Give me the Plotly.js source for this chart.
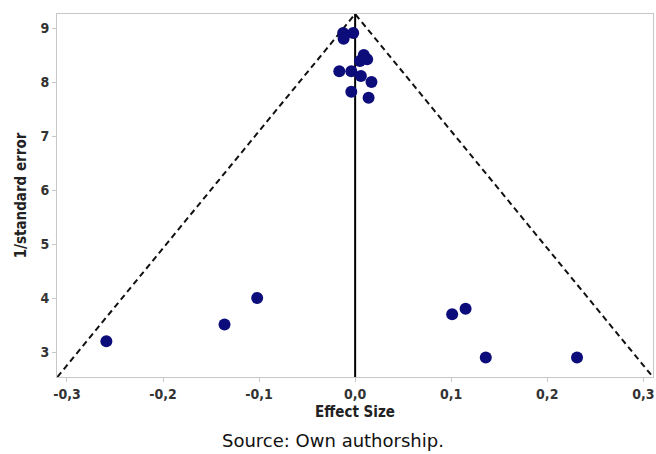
<!DOCTYPE html>
<html>
<head>
<meta charset="utf-8">
<script src="https://cdn.plot.ly/plotly-3.0.1.min.js"></script>
<style>html,body{margin:0;padding:0;background:#fff;}#chart{width:656px;height:454px;}</style>
</head>
<body>
<div id="chart"></div>
<script>
// Study effect sizes and precision (1/standard error)
const effectSize = [-0.0125, -0.002, -0.012, 0.009, 0.0125, 0.005, -0.0165, -0.004, 0.006, 0.017, -0.004, 0.014,
                    -0.259, -0.136, -0.102, 0.101, 0.115, 0.136, 0.231];
const precision  = [8.91, 8.91, 8.80, 8.50, 8.42, 8.39, 8.20, 8.20, 8.11, 8.00, 7.82, 7.71,
                    3.20, 3.51, 4.00, 3.70, 3.80, 2.90, 2.90];
// Funnel (pseudo confidence limits) and mean effect line
const funnelX = [-0.31, 0, 0.31];
const funnelY = [2.537, 9.26, 2.537];
const meanX = [0, 0];
const meanY = [2.537, 9.26];
// Axis ticks
const xTickVals = [-0.3, -0.2, -0.1, 0, 0.1, 0.2, 0.3];
const xTickText = ["-0,3", "-0,2", "-0,1", "0,0", "0,1", "0,2", "0,3"];
const yTickVals = [3, 4, 5, 6, 7, 8, 9];
const yTickText = ["3", "4", "5", "6", "7", "8", "9"];

const font = "'DejaVu Sans Condensed', 'DejaVu Sans', sans-serif";

const traces = [
  {x: funnelX, y: funnelY, mode: "lines", line: {color: "#111", width: 2, dash: "6px,4px"}, hoverinfo: "skip"},
  {x: meanX, y: meanY, mode: "lines", line: {color: "#000", width: 2}, hoverinfo: "skip"},
  {x: effectSize, y: precision, mode: "markers", marker: {color: "#0c0c7a", size: 12}}
];

const axisCommon = {
  showgrid: false, zeroline: false, showline: true, linecolor: "#c8c8c8", linewidth: 1, mirror: true,
  ticks: "outside", ticklen: 4, tickcolor: "#c8c8c8",
  tickfont: {family: font, size: 14, color: "#333", weight: "bold"}
};

const layout = {
  width: 656, height: 454,
  margin: {l: 57, r: 3, t: 14, b: 77},
  paper_bgcolor: "#fff", plot_bgcolor: "#fff",
  showlegend: false,
  xaxis: Object.assign({}, axisCommon, {
    range: [-0.3104, 0.3101], tickvals: xTickVals, ticktext: xTickText,
    title: {text: "Effect Size", font: {family: font, size: 15, color: "#222", weight: "bold"}, standoff: 5}
  }),
  yaxis: Object.assign({}, axisCommon, {
    range: [2.537, 9.26], tickvals: yTickVals, ticktext: yTickText,
    title: {text: "1/standard error", font: {family: font, size: 15, color: "#222", weight: "bold"}, standoff: 10}
  }),
  annotations: [{
    text: "Source: Own authorship.", xref: "paper", yref: "paper", x: 0.463, y: -0.174, yanchor: "middle", xanchor: "center",
    showarrow: false, font: {family: "'DejaVu Sans', sans-serif", size: 18, color: "#111"}
  }]
};

Plotly.newPlot("chart", traces, layout, {staticPlot: true});
</script>
</body>
</html>
